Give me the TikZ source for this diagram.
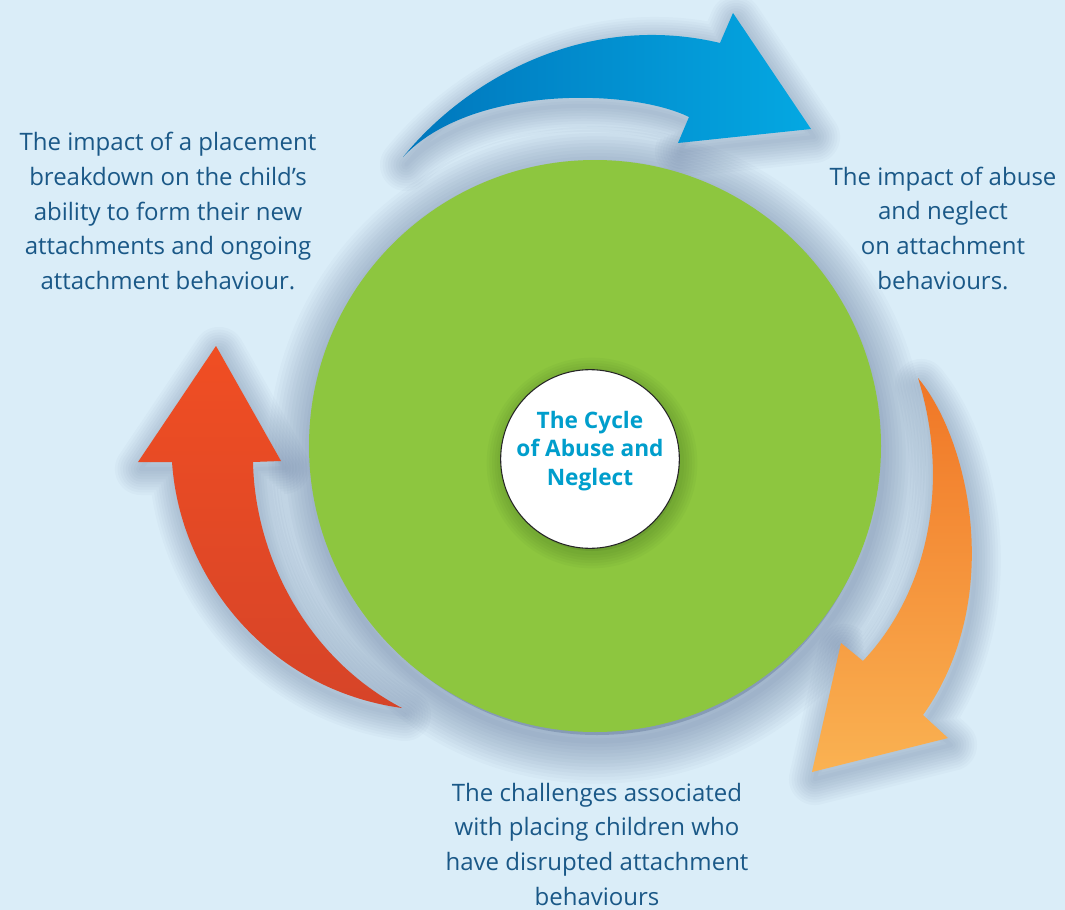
\documentclass[tikz,border=0pt]{standalone}
\usepackage{fontspec}
\setmainfont{Open Sans}

\definecolor{bgblue}{RGB}{218,237,248}
\definecolor{ringgreen}{RGB}{141,198,63}
\definecolor{labelblue}{RGB}{26,88,135}
\definecolor{titleblue}{RGB}{0,158,204}
\definecolor{blueA}{RGB}{0,118,188}
\definecolor{blueB}{RGB}{4,168,226}
\definecolor{orangeA}{RGB}{240,118,38}
\definecolor{orangeB}{RGB}{250,178,82}
\definecolor{redA}{RGB}{240,78,35}
\definecolor{redB}{RGB}{214,68,40}
\definecolor{shadowcol}{RGB}{60,82,125}
\definecolor{hubshadow}{RGB}{60,100,30}

% outlines of the three curved arrows
\newcommand\bluearrowpath{(403,157) .. controls (470,75) and (590,12) .. (720,43)
  -- (733,13) -- (811,129) -- (678,143) -- (689,117)
  .. controls (630,88) and (470,85) .. (403,157) -- cycle}
\newcommand\orangearrowpath{(918,378) .. controls (970,440) and (1005,600) .. (923,715)
  -- (948,738) -- (812,772) -- (841,643) -- (863,661)
  .. controls (930,590) and (950,480) .. (918,378) -- cycle}
\newcommand\redarrowpath{(402,708) .. controls (310,660) and (255,560) .. (253,462)
  -- (281,461) -- (216,346) -- (138,462) -- (172,462)
  .. controls (180,580) and (270,690) .. (402,708) -- cycle}

\begin{document}
\begin{tikzpicture}[x=0.75pt,y=-0.75pt,
  label/.style={text=labelblue, align=center, font=\fontsize{18}{26}\selectfont},
  shadowlayer/.style={draw=shadowcol, opacity=0.032,
      line width=#1, line join=round},
]
% canvas
\fill[bgblue] (0,0) rectangle (1065,910);
\useasboundingbox (0,0) rectangle (1065,910);

% soft shadows, built from stacked translucent strokes
\foreach \w in {4,9,...,64} {
  \path[shadowlayer=\w pt] (597,455) circle[radius=286];
}
\path[fill=shadowcol, opacity=0.3] (597,455) circle[radius=280];
\foreach \w in {3,7,...,39} {
  \path[shadowlayer=\w pt, shift={(3,8)}] \bluearrowpath;
  \path[shadowlayer=\w pt, shift={(3,7)}] \orangearrowpath;
  \path[shadowlayer=\w pt, shift={(3,7)}] \redarrowpath;
}

% the large green disc
\node[circle, fill=ringgreen, inner sep=0pt, minimum size=429pt] (cycle) at (595,446) {};

% shadow of the white hub on the green
\foreach \w in {3,7,...,23} {
  \path[draw=hubshadow, opacity=0.05, line width=\w pt] (592,463) circle[radius=90];
}
\path[fill=hubshadow, opacity=0.2] (592,463) circle[radius=88];
\node[circle, fill=white, draw=black!85, line width=0.8pt, inner sep=0pt,
      minimum size=134pt] (hub) at (590,459) {};
\node[text=titleblue, align=center, font=\bfseries\fontsize{17}{21.5}\selectfont]
      (title) at (590,451) {The Cycle\\of Abuse and\\Neglect};

% the three curved arrows
\path[left color=blueA, right color=blueB] \bluearrowpath;
\path[top color=orangeA, bottom color=orangeB] \orangearrowpath;
\path[top color=redA, bottom color=redB] \redarrowpath;

% stage labels
\node[label] (stageA) at (168,211) {The impact of a placement\\breakdown on the child’s\\ability to form their new\\attachments and ongoing\\attachment behaviour.};
\node[label] (stageB) at (943,228) {The impact of abuse\\and neglect\\on attachment\\behaviours.};
\node[label] (stageC) at (597,844) {The challenges associated\\with placing children who\\have disrupted attachment\\behaviours};
\end{tikzpicture}
\end{document}
